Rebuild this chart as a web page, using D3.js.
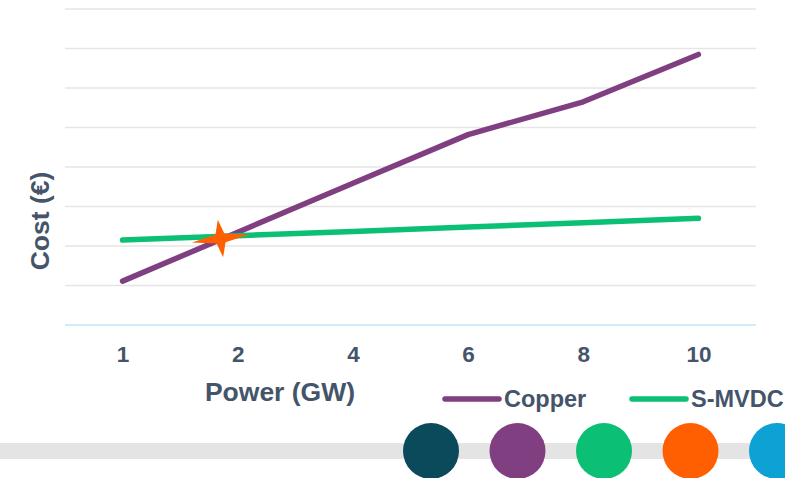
<!DOCTYPE html>
<html>
<head>
<meta charset="utf-8">
<script src="https://cdn.jsdelivr.net/npm/d3@7"></script>
<style>
  html, body { margin: 0; padding: 0; background: #fff; }
  svg { display: block; }
  text { font-family: "Liberation Sans", Arial, sans-serif; font-weight: bold; fill: #44546a; }
</style>
</head>
<body>
<svg id="chart" width="785" height="478"></svg>
<script>
// Power levels (GW) shown as evenly spaced categories
const powerLevels = ["1", "2", "4", "6", "8", "10"];
// Relative cost (unitless, one unit per gridline)
const copperCost = [1.11, 2.35, 3.59, 4.82, 5.65, 6.85];
const smvdcCost  = [2.15, 2.26, 2.37, 2.48, 2.59, 2.70];
// Break-even marker: fractional category index and cost
const breakEven = { index: 0.85, cost: 2.19 };
const gridValues = [1, 2, 3, 4, 5, 6, 7, 8];
const seriesNames = ["Copper", "S-MVDC"];
const seriesColors = ["#803f80", "#0bbf74"];
const brandColors = ["#0b4a5b", "#803f80", "#0bbf74", "#ff5f00", "#0ea1d4"];

const svg = d3.select("#chart");
const plot = { left: 65, right: 756, top: 9, bottom: 325 };

const x = d3.scalePoint()
  .domain(powerLevels)
  .range([plot.left, plot.right])
  .padding(0.5);
const xIdx = d3.scaleLinear()
  .domain([0, powerLevels.length - 1])
  .range([x(powerLevels[0]), x(powerLevels[powerLevels.length - 1])]);
const y = d3.scaleLinear().domain([0, 8]).range([plot.bottom, plot.top]);

// Horizontal gridlines
svg.append("g")
  .selectAll("line")
  .data(gridValues)
  .join("line")
  .attr("x1", plot.left).attr("x2", plot.right)
  .attr("y1", d => y(d)).attr("y2", d => y(d))
  .attr("stroke", "#e5e5e5").attr("stroke-width", 1.6);

// Baseline axis
svg.append("line")
  .attr("x1", plot.left).attr("x2", plot.right)
  .attr("y1", y(0)).attr("y2", y(0))
  .attr("stroke", "#cdeef8").attr("stroke-width", 2);

// Category labels
const xAxis = svg.append("g")
  .attr("transform", `translate(0,${y(0)})`)
  .call(d3.axisBottom(x).tickSize(0).tickPadding(0));
xAxis.select(".domain").remove();
xAxis.selectAll("text")
  .attr("dy", null)
  .attr("y", 37)
  .style("font-size", "22.5px")
  .style("font-family", "'Liberation Sans', Arial, sans-serif")
  .style("font-weight", "bold")
  .attr("fill", "#44546a");

// Axis titles
svg.append("text")
  .attr("x", 280).attr("y", 401)
  .attr("text-anchor", "middle")
  .style("font-size", "26.5px")
  .text("Power (GW)");

svg.append("text")
  .attr("transform", "translate(48.5,221) rotate(-90)")
  .attr("text-anchor", "middle")
  .style("font-size", "26.5px")
  .text("Cost (€)");

// Series lines
const line = d3.line()
  .x((d, i) => x(powerLevels[i]))
  .y(d => y(d));

[copperCost, smvdcCost].forEach((vals, k) => {
  svg.append("path")
    .datum(vals)
    .attr("d", line)
    .attr("fill", "none")
    .attr("stroke", seriesColors[k])
    .attr("stroke-width", 5.5)
    .attr("stroke-linecap", "round")
    .attr("stroke-linejoin", "round");
});

// Break-even star marker
const bx = xIdx(breakEven.index), by = y(breakEven.cost);
const rx = 29, ry = 19, inner = 4.5;
const starPts = [
  [0, -ry], [inner, -inner], [rx, 0], [inner, inner],
  [0, ry], [-inner, inner], [-rx, 0], [-inner, -inner]
];
svg.append("path")
  .attr("d", "M" + starPts.map(p => p.join(",")).join("L") + "Z")
  .attr("transform", `translate(${bx},${by}) rotate(-8)`)
  .attr("fill", "#ff5f00");

// Legend
const legendX = [445, 632];
seriesNames.forEach((name, k) => {
  svg.append("line")
    .attr("x1", legendX[k]).attr("x2", legendX[k] + 54)
    .attr("y1", 399).attr("y2", 399)
    .attr("stroke", seriesColors[k])
    .attr("stroke-width", 5.5)
    .attr("stroke-linecap", "round");
  svg.append("text")
    .attr("x", legendX[k] + 59).attr("y", 407)
    .style("font-size", "23.5px")
    .text(name);
});

// Footer band with brand dots
svg.append("rect")
  .attr("x", 0).attr("y", 443)
  .attr("width", 785).attr("height", 16)
  .attr("fill", "#e4e4e4");

const dotX = d3.scaleLinear().domain([0, brandColors.length - 1]).range([431, 777]);
svg.append("g")
  .selectAll("circle")
  .data(brandColors)
  .join("circle")
  .attr("cx", (d, i) => dotX(i))
  .attr("cy", 451)
  .attr("r", 28)
  .attr("fill", d => d);
</script>
</body>
</html>
